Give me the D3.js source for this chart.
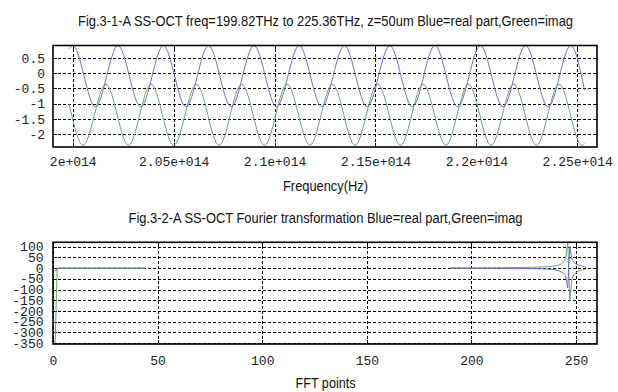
<!DOCTYPE html>
<html>
<head>
<meta charset="utf-8">
<style>
  body { margin: 0; background: #fff; }
  .grid line { stroke: #000; stroke-dasharray: 3,2; shape-rendering: crispEdges; }
  .marks line { stroke: #000; shape-rendering: crispEdges; }
  .labels text { font-family: "Liberation Mono", "Courier New", monospace; font-size: 13px; fill: #222; }
  .caption { font-family: "Liberation Sans", Arial, sans-serif; font-size: 14px; fill: #111; }
</style>
</head>
<body>
<svg id="chart" width="618" height="392"></svg>
<script src="https://cdn.jsdelivr.net/npm/d3@7"></script>
<script>
  var svg = d3.select("#chart");

  // DATA - panel 1 (frequencies in THz at peaks/troughs)
  var realFreq = [199.82, 200.00, 201.12, 202.24, 203.37, 204.49, 205.61, 206.73, 207.85, 208.98,
                  210.10, 211.22, 212.34, 213.46, 214.59, 215.71, 216.83, 217.95, 219.07, 220.20,
                  221.32, 222.44, 223.56, 224.68, 225.36];
  var realVal  = [0.80, 0.90, -1.10, 0.90, -1.10, 0.90, -1.10, 0.90, -1.10, 0.90,
                  -1.10, 0.90, -1.10, 0.90, -1.10, 0.90, -1.10, 0.90, -1.10, 0.90,
                  -1.10, 0.90, -1.10, 0.90, -0.56];
  var imagFreq = [199.82, 200.51, 201.64, 202.76, 203.88, 205.00, 206.13, 207.25, 208.37, 209.50,
                  210.62, 211.75, 212.87, 213.99, 215.11, 216.24, 217.36, 218.49, 219.61, 220.73,
                  221.85, 222.98, 224.10, 225.23, 225.36];
  var imagVal  = [-1.00, -2.36, -0.36, -2.36, -0.36, -2.36, -0.36, -2.36, -0.36, -2.36,
                  -0.36, -2.36, -0.36, -2.36, -0.36, -2.36, -0.36, -2.36, -0.36, -2.36,
                  -0.36, -2.36, -0.36, -2.36, -2.30];
  var freqTicks = [2e14, 2.05e14, 2.1e14, 2.15e14, 2.2e14, 2.25e14];
  var freqTickLabels = ["2e+014", "2.05e+014", "2.1e+014", "2.15e+014", "2.2e+014", "2.25e+014"];
  var waveTicks = [0.5, 0, -0.5, -1, -1.5, -2];
  var waveTickLabels = ["0.5", "0", "-0.5", "-1", "-1.5", "-2"];

  // DATA - panel 2 (FFT points)
  var lowIdx  = [1, 2, 3, 10, 20, 30, 44];
  var lowReal = [-16, 0, 0, 0, 0, 0, 0];
  var lowImag = [-354, -4, 0, 0, 0, 0, 0];
  var highIdx  = [190, 200, 210, 220, 230, 235, 238, 240, 242, 243, 244, 245, 246, 247,
                  248, 249, 250, 251, 252, 253, 254, 255];
  var highReal = [-0.5, -0.7, -1, -1.5, -2.5, -4, -5.5, -8, -14, -18, -24, -35, -93, 101,
                  42, 26, 19, 15, 12, 9, 6, 3];
  var highImag = [1, 1.3, 1.7, 2.5, 4, 6, 8, 11, 15, 20, 28, 45, 120, -155,
                  -50, -30, -22, -15, -11, -8, -6, -4];
  var fftTicks = [0, 50, 100, 150, 200, 250];
  var ampTicks = [100, 50, 0, -50, -100, -150, -200, -250, -300, -350];

  var BLUE = "#6e6ed8", GREEN = "#6fa36f";

  function panel(o) {
    var left = 53, right = 597;
    var x = d3.scaleLinear().domain(o.xDomain).range([left, right]);
    var y = d3.scaleLinear().domain(o.yDomain).range([o.bottom, o.top]);
    var g = svg.append("g");

    // dashed grid
    g.append("g").attr("class", "grid")
      .attr("transform", "translate(0," + o.bottom + ")")
      .call(d3.axisBottom(x).tickValues(o.xTicks).tickSize(-(o.bottom - o.top)).tickFormat(""))
      .call(function(s) { s.select(".domain").remove(); });
    g.append("g").attr("class", "grid")
      .attr("transform", "translate(" + left + ",0)")
      .call(d3.axisLeft(y).tickValues(o.yTicks).tickSize(-(right - left)).tickFormat(""))
      .call(function(s) { s.select(".domain").remove(); });

    // short solid tick marks inside the frame
    var marks = [
      [d3.axisBottom(x).tickValues(o.xTicks), "translate(0," + o.bottom + ")"],
      [d3.axisTop(x).tickValues(o.xTicks), "translate(0," + o.top + ")"],
      [d3.axisLeft(y).tickValues(o.yTicks), "translate(" + left + ",0)"],
      [d3.axisRight(y).tickValues(o.yTicks), "translate(" + right + ",0)"]
    ];
    marks.forEach(function(m) {
      g.append("g").attr("class", "marks").attr("transform", m[1])
        .call(m[0].tickSize(-4).tickFormat(""))
        .call(function(s) { s.select(".domain").remove(); });
    });

    // series
    o.series.forEach(function(s) {
      var pts = s.xs.map(function(v, i) { return [v, s.ys[i]]; });
      g.append("path")
        .datum(pts)
        .attr("fill", "none")
        .attr("stroke", s.color)
        .attr("stroke-width", 1)
        .attr("d", d3.line()
          .x(function(d) { return x(o.xMul * d[0]); })
          .y(function(d) { return y(d[1]); })
          .curve(o.curve));
    });

    // frame
    g.append("rect")
      .attr("x", left).attr("y", o.top)
      .attr("width", right - left).attr("height", o.bottom - o.top)
      .attr("fill", "none").attr("stroke", "#000").attr("stroke-width", 1.6);

    // tick labels
    g.append("g").attr("class", "labels")
      .attr("transform", "translate(0," + o.bottom + ")")
      .call(d3.axisBottom(x).tickValues(o.xTicks).tickSize(0).tickPadding(o.xPad)
        .tickFormat(function(d, i) { return o.xLabels[i]; }))
      .call(function(s) { s.select(".domain").remove(); });
    g.append("g").attr("class", "labels")
      .attr("transform", "translate(" + left + ",0)")
      .call(d3.axisLeft(y).tickValues(o.yTicks).tickSize(0).tickPadding(o.yPad)
        .tickFormat(function(d, i) { return o.yLabels[i]; }))
      .call(function(s) { s.select(".domain").remove(); });

    // title and x label
    svg.append("text").attr("class", "caption")
      .attr("x", 325.5).attr("y", o.titleY).attr("text-anchor", "middle")
      .attr("textLength", o.titleW).attr("lengthAdjust", "spacingAndGlyphs")
      .text(o.title);
    svg.append("text").attr("class", "caption")
      .attr("x", 325.5).attr("y", o.xlabY).attr("text-anchor", "middle")
      .attr("textLength", o.xlabW).attr("lengthAdjust", "spacingAndGlyphs")
      .text(o.xlab);
  }

  panel({
    top: 45.5, bottom: 147,
    xDomain: [199.02e12, 225.98e12], yDomain: [-2.415, 0.904], xMul: 1e12,
    xTicks: freqTicks, xLabels: freqTickLabels, xPad: 10,
    yTicks: waveTicks, yLabels: waveTickLabels, yPad: 8,
    curve: d3.curveMonotoneX,
    series: [
      { xs: imagFreq, ys: imagVal, color: GREEN },
      { xs: realFreq, ys: realVal, color: BLUE }
    ],
    title: "Fig.3-1-A SS-OCT freq=199.82THz to 225.36THz, z=50um Blue=real part,Green=imag",
    titleY: 26, titleW: 495,
    xlab: "Frequency(Hz)", xlabY: 190.5, xlabW: 85
  });

  panel({
    top: 242.3, bottom: 344,
    xDomain: [0, 260], yDomain: [-354.7, 120.6], xMul: 1,
    xTicks: fftTicks, xLabels: fftTicks.map(String), xPad: 12,
    yTicks: ampTicks, yLabels: ampTicks.map(String), yPad: 9.5,
    curve: d3.curveLinear,
    series: [
      { xs: lowIdx, ys: lowImag, color: GREEN },
      { xs: lowIdx, ys: lowReal, color: BLUE },
      { xs: highIdx, ys: highImag, color: GREEN },
      { xs: highIdx, ys: highReal, color: BLUE }
    ],
    title: "Fig.3-2-A SS-OCT Fourier transformation Blue=real part,Green=imag",
    titleY: 223, titleW: 394,
    xlab: "FFT points", xlabY: 388, xlabW: 60
  });
</script>
</body>
</html>
